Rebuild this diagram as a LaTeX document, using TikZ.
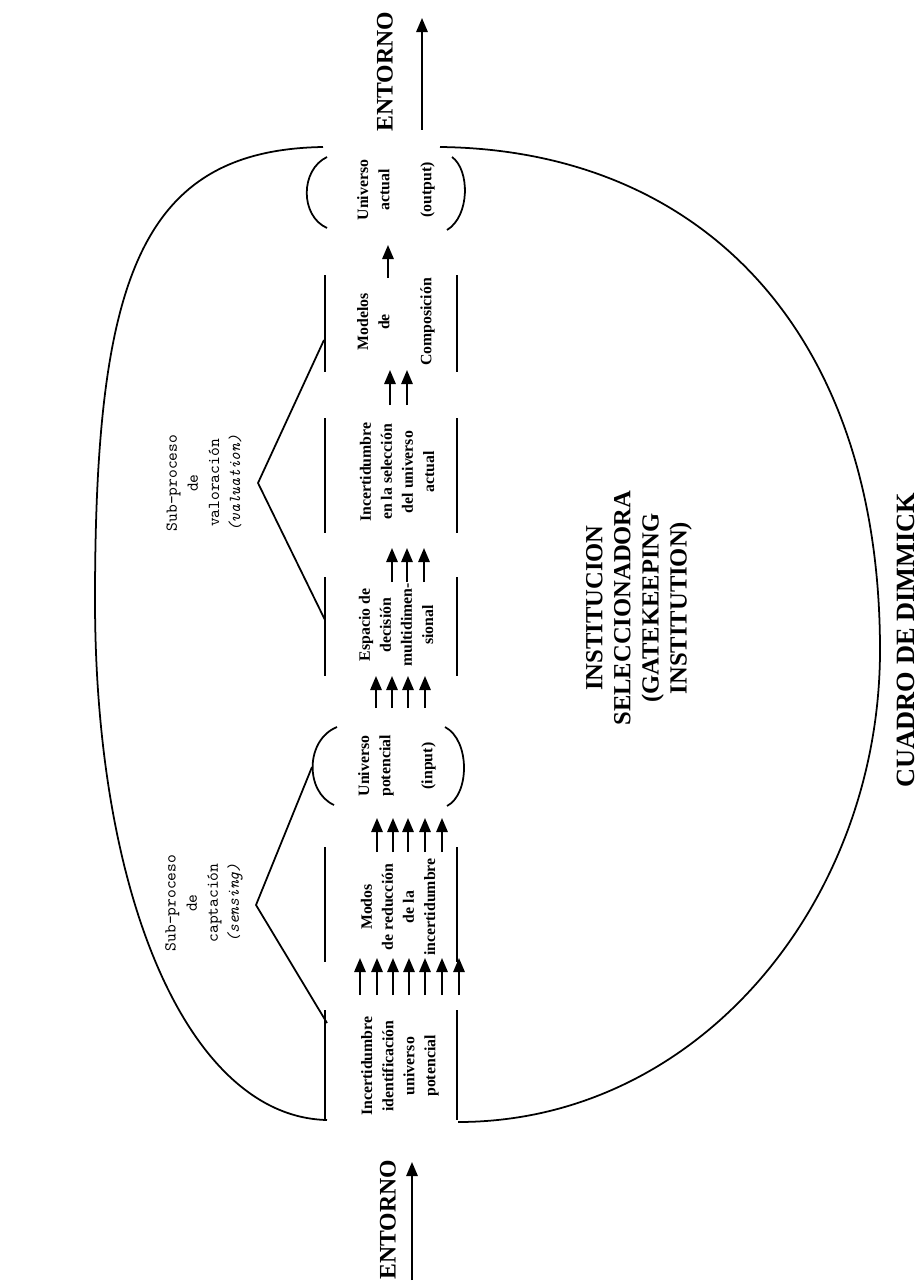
\documentclass[tikz,border=0pt]{standalone}
\usepackage{fontspec}
\setmainfont{Liberation Serif}
\usetikzlibrary{arrows, arrows.meta, positioning}

\tikzset{
    box/.style={rotate=90, align=center, inner sep=0pt, font=\fontsize{9}{12}\selectfont\bfseries},
    sub/.style={rotate=90, align=center, inner sep=0pt, font=\fontsize{9.5}{12}\selectfont\ttfamily},
    big/.style={rotate=90, align=center, inner sep=0pt, font=\fontsize{14}{16}\selectfont\bfseries},
    flow/.style={-{Triangle[length=8pt,width=6.5pt]}, line width=1pt},
    wall/.style={line width=1pt},
}

\begin{document}
\begin{tikzpicture}[x=0.02cm, y=-0.02cm]
    \useasboundingbox (0,0) rectangle (919,1284);
    % outline of the institution
    \draw[wall] (323,147) .. controls (140,150) and (95,280) .. (95,600) .. controls (95,900) and (190,1117) .. (327,1120);
    \draw[wall] (440,147) .. controls (700,150) and (880,330) .. (880,650) .. controls (880,900) and (700,1122) .. (458,1122);
    \foreach \a/\b in {275/372, 418/533, 577/676, 847/962, 1010/1120}
        {\draw[wall] (325,\a) -- (325,\b); \draw[wall] (457,\a) -- (457,\b);}
    % input and output
    \draw[wall] (337,727) .. controls (305,740) and (305,792) .. (334,805);
    \draw[wall] (445,727) .. controls (470,740) and (470,794) .. (447,806);
    \draw[wall] (327,157) .. controls (300,170) and (300,216) .. (327,228);
    \draw[wall] (452,157) .. controls (470,170) and (470,216) .. (447,230);
    % steps
    \node[box] (incid) at (400,1066) {Incertidumbre\\identificación\\universo\\potencial};
    \node[box] (modos) at (398,907) {Modos\\de reducción\\de la\\incertidumbre};
    \node[box] (upot) at (397,766) {Universo\\potencial\\\mbox{}\\(input)};
    \node[box] (espacio) at (396,625) {Espacio de\\decisión\\multidimen-\\sional};
    \node[box] (incsel) at (397,472) {Incertidumbre\\en la selección\\del universo\\actual};
    \node[box] (modelos) at (396,322) {Modelos\\de\\\mbox{}\\Composición};
    \node[box] (uact) at (396,190) {Universo\\actual\\\mbox{}\\(output)};
    % flows
    \foreach \x in {360,377,393,409,425,442,459} \draw[flow] (\x,995) -- (\x,958);
    \foreach \x in {377,393,408,425,442} \draw[flow] (\x,852) -- (\x,818);
    \foreach \x in {376,392,408,425} \draw[flow] (\x,708) -- (\x,676);
    \foreach \x in {392,407,424} \draw[flow] (\x,582) -- (\x,548);
    \foreach \x in {390,407} \draw[flow] (\x,405) -- (\x,370);
    \draw[flow] (388,278) -- (388,245);
    % sub-processes
    \node[sub] (capt) at (204,903) {Sub-proceso\\de\\captación\\{\itshape(sensing)}};
    \node[sub] (valor) at (204,483) {Sub-proceso\\de\\valoración\\{\itshape(valuation)}};
    \coordinate (captapex) at (256,905);
    \coordinate (valorapex) at (258,483);
    \draw[wall] (312,767) -- (captapex) -- (327,1023);
    \draw[wall] (324,340) -- (valorapex) -- (325,620);
    % institution
    \node[big] (inst) at (639,608) {INSTITUCION\\SELECCIONADORA\\(GATEKEEPING\\INSTITUTION)};
    \node[big, font=\fontsize{15}{17}\selectfont\bfseries] (cuadro) at (906,640) {CUADRO DE DIMMICK};
    % environment
    \node[big, font=\fontsize{13.5}{16}\selectfont\bfseries] (entin) at (388,1220) {ENTORNO};
    \node[big, font=\fontsize{13.5}{16}\selectfont\bfseries] (entout) at (385,72) {ENTORNO};
    \coordinate (inS) at (412,1280);
    \coordinate (outS) at (422,130);
    \draw[flow] (inS) -- (412,1162);
    \draw[flow] (outS) -- (422,18);
\end{tikzpicture}
\end{document}
